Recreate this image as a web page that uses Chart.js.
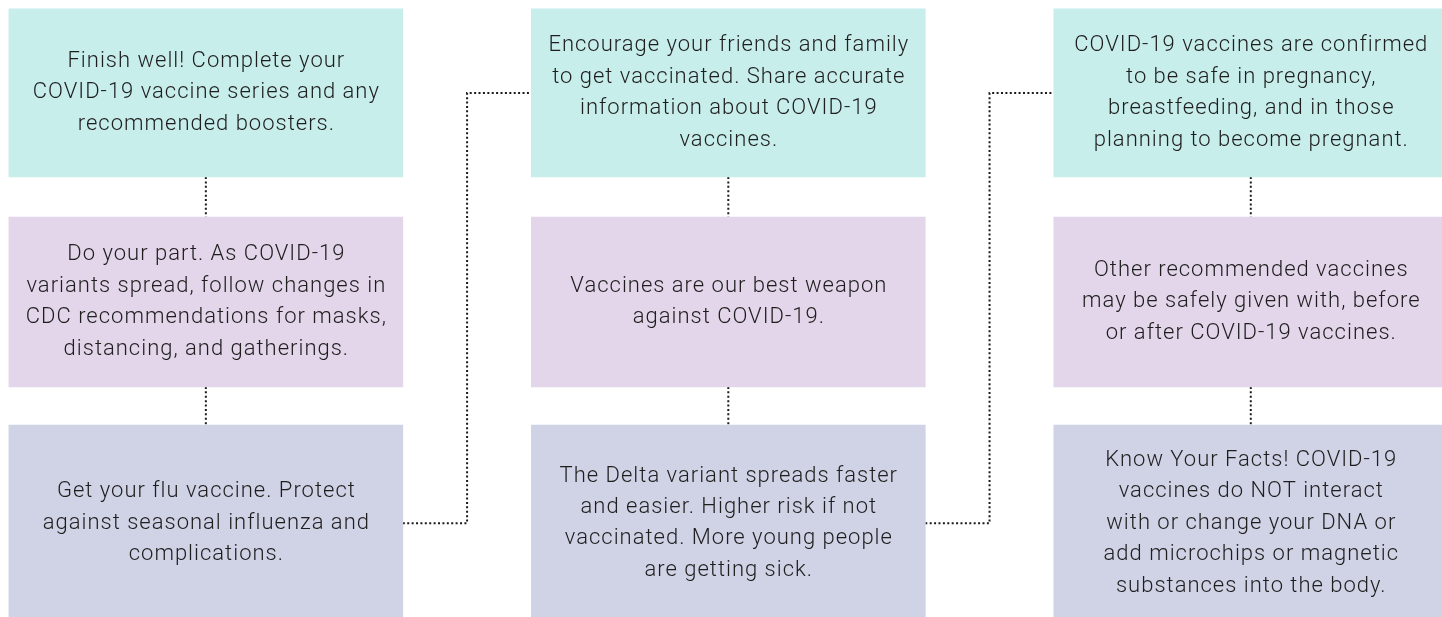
<!DOCTYPE html>
<html>
<head>
<meta charset="utf-8">
<script src="https://cdn.jsdelivr.net/npm/chart.js@4.4.1/dist/chart.umd.min.js"></script>
<style>
  html, body { margin: 0; padding: 0; background: #fff; overflow: hidden; }
  #wrap { width: 1442px; height: 617px; }
</style>
</head>
<body>
<div id="wrap"><canvas id="flow" width="1442" height="617"></canvas></div>
<script>
// box texts, one array per column, top box first (each box = its lines)
const column1 = [
  ["Finish well! Complete your", "COVID-19 vaccine series and any", "recommended boosters."],
  ["Do your part. As COVID-19", "variants spread, follow changes in", "CDC recommendations for masks,", "distancing, and gatherings."],
  ["Get your flu vaccine. Protect", "against seasonal influenza and", "complications."]
];
const column2 = [
  ["Encourage your friends and family", "to get vaccinated. Share accurate", "information about COVID-19", "vaccines."],
  ["Vaccines are our best weapon", "against COVID-19."],
  ["The Delta variant spreads faster", "and easier. Higher risk if not", "vaccinated. More young people", "are getting sick."]
];
const column3 = [
  ["COVID-19 vaccines are confirmed", "to be safe in pregnancy,", "breastfeeding, and in those", "planning to become pregnant."],
  ["Other recommended vaccines", "may be safely given with, before", "or after COVID-19 vaccines."],
  ["Know Your Facts! COVID-19", "vaccines do NOT interact", "with or change your DNA or", "add microchips or magnetic", "substances into the body."]
];
const columns = [column1, column2, column3];

// colours per row
const rowColors = ["#c7eeeb", "#e3d6ea", "#d0d3e6"];

/* -------------------------------
   LAYOUT (axis units: 1 x = one column step, 1 y = one row step)
--------------------------------*/
const X_MIN = -0.394, X_MAX = 2.366;
const Y_MIN = -0.043, Y_MAX = 2.923;
const BOX_HALF = 0.377;                 // half box width, in column steps
const ROW_HEIGHT = [0.808, 0.817, 0.945];
const W = 1442;

const boxes = [];
const boxText = [];
columns.forEach((col, c) => {
  col.forEach((lines, r) => {
    boxes.push({ x: c, y: [r, r + ROW_HEIGHT[r]] });
    boxText.push(lines);
  });
});

const midY = r => r + ROW_HEIGHT[r] / 2;

// dotted connectors
const segments = [];
columns.forEach((col, c) => {
  for (let r = 0; r < col.length - 1; r++) {
    segments.push([{ x: c, y: r + ROW_HEIGHT[r] }, { x: c, y: r + 1 }]);
  }
  if (c < columns.length - 1) {
    segments.push([
      { x: c + BOX_HALF, y: midY(2) },
      { x: c + 0.5, y: midY(2) },
      { x: c + 0.5, y: midY(0) },
      { x: c + 1 - BOX_HALF, y: midY(0) }
    ]);
  }
});

const lineSets = segments.map(pts => ({
  type: "line",
  data: pts,
  borderColor: "#1a1a1a",
  borderWidth: 2,
  borderDash: [2, 2.4],
  pointRadius: 0,
  fill: false,
  tension: 0
}));

// draws the wrapped text in the middle of each box
const boxLabels = {
  id: "boxLabels",
  afterDatasetsDraw(chart) {
    const ctx = chart.ctx;
    const meta = chart.getDatasetMeta(0);
    ctx.save();
    ctx.fillStyle = "#1e1e1e";
    ctx.font = "300 22px Roboto";
    ctx.letterSpacing = "1px";
    ctx.textAlign = "center";
    ctx.textBaseline = "middle";
    const lh = 31.4;
    meta.data.forEach((bar, i) => {
      const lines = boxText[i];
      const cy = (bar.y + bar.base) / 2;
      lines.forEach((t, k) => {
        // letterSpacing adds a trailing gap, shift back by half of it
        ctx.fillText(t, bar.x + 0.5, cy + (k - (lines.length - 1) / 2) * lh);
      });
    });
    ctx.restore();
  }
};

new Chart(document.getElementById("flow"), {
  type: "bar",
  data: {
    datasets: [{
      data: boxes,
      backgroundColor: ctx => rowColors[Math.floor(ctx.raw ? ctx.raw.y[0] : 0)],
      borderWidth: 0,
      barThickness: (2 * BOX_HALF) * W / (X_MAX - X_MIN)
    }].concat(lineSets)
  },
  options: {
    responsive: false,
    animation: false,
    layout: { padding: 0 },
    plugins: { legend: { display: false }, tooltip: { enabled: false } },
    scales: {
      x: { type: "linear", min: X_MIN, max: X_MAX, offset: false, display: false },
      y: { type: "linear", min: Y_MIN, max: Y_MAX, reverse: true, display: false }
    }
  },
  plugins: [boxLabels]
});
</script>
</body>
</html>
